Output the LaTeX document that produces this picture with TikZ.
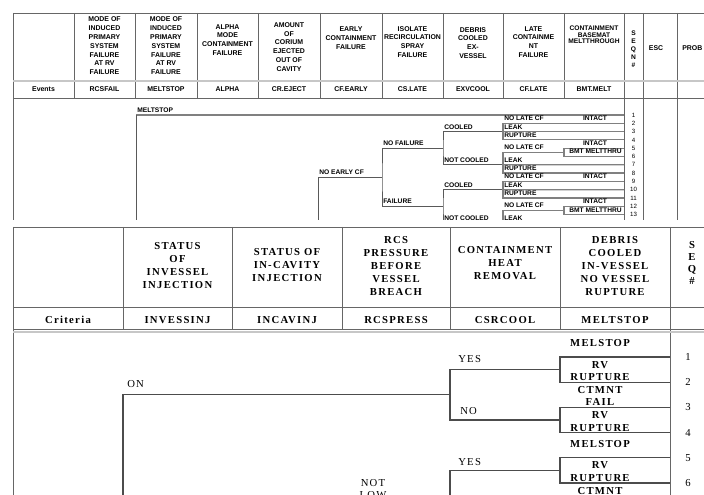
\documentclass[tikz,border=0pt]{standalone}
\usepackage{fontspec}
\setmainfont{Liberation Serif}
\newfontfamily\treefont{Liberation Sans}
\newfontfamily\sheetfont[LetterSpace=12]{Liberation Serif}
\usetikzlibrary{positioning}

\tikzset{
  tabline/.style={draw=black!60,line width=0.7pt},
  band/.style={draw=black!22,line width=1.8pt},
  branch/.style={draw=black!65,line width=0.6pt},
  leafline/.style={draw=black!50,line width=0.9pt},
  bbranch/.style={draw=black!70,line width=0.8pt},
  tophead/.style={font=\treefont\bfseries\fontsize{5.2}{6.6}\selectfont,inner sep=0pt,align=center},
  toplab/.style={font=\treefont\bfseries\fontsize{5}{6}\selectfont,inner sep=0pt,anchor=base west},
  topnum/.style={font=\treefont\fontsize{4.6}{5}\selectfont,inner sep=0pt},
  bothead/.style={font=\sheetfont\bfseries\fontsize{8}{9.75}\selectfont,inner sep=0pt,align=center},
  botlab/.style={font=\sheetfont\fontsize{8}{9}\selectfont,inner sep=0pt,anchor=base west},
  leaf/.style={font=\sheetfont\bfseries\fontsize{8}{9}\selectfont,inner sep=0pt,anchor=base},
  botnum/.style={font=\sheetfont\fontsize{8}{9}\selectfont,inner sep=0pt},
}

\begin{document}
\begin{tikzpicture}[x=0.75pt,y=-0.75pt]
\useasboundingbox[fill=white] (0,0) rectangle (704,495);

%% upper sheet
\begin{scope}
\clip (0,0) rectangle (704,220);
\foreach \x in {13,74,135,197,258,320,382,443,503,564,624,643,677}
  \draw[tabline] (\x,13) -- (\x,98.5);
\foreach \x in {13,624,643,677}
  \draw[tabline] (\x,98.5) -- (\x,222);
\draw[tabline] (13,13) -- (704,13);
\draw[band] (13,81) -- (704,81);
\draw[tabline] (13,98.5) -- (704,98.5);

\node[tophead] (hrcs) at (104.5,46) {MODE OF\\INDUCED\\PRIMARY\\SYSTEM\\FAILURE\\AT RV\\FAILURE};
\node[tophead] (hmelt) at (166,46) {MODE OF\\INDUCED\\PRIMARY\\SYSTEM\\FAILURE\\AT RV\\FAILURE};
\node[tophead] (halpha) at (227.5,40) {ALPHA\\MODE\\CONTAINMENT\\FAILURE};
\node[tophead] (heject) at (289,47) {AMOUNT\\OF\\CORIUM\\EJECTED\\OUT OF\\CAVITY};
\node[tophead] (hearly) at (351,38) {EARLY\\CONTAINMENT\\FAILURE};
\node[tophead] (hspray) at (412.5,42) {ISOLATE\\RECIRCULATION\\SPRAY\\FAILURE};
\node[tophead] (hexv) at (473,43) {DEBRIS\\COOLED\\EX-\\VESSEL};
\node[tophead] (hlate) at (533.5,42) {LATE\\CONTAINME\\NT\\FAILURE};
\node[tophead,font=\treefont\bfseries\fontsize{5}{5}\selectfont] (hbmt) at (594,35) {CONTAINMENT\\BASEMAT\\MELTTHROUGH};
\node[tophead,font=\treefont\bfseries\fontsize{5}{6}\selectfont] (hseq) at (633.5,49) {S\\E\\Q\\N\\\#};
\node[tophead] (hesc) at (656,48) {ESC};
\node[tophead,anchor=west] (hprob) at (682,48) {PROB};

\foreach \x/\t [count=\i] in {43.5/Events,104.5/RCSFAIL,166/MELTSTOP,227.5/ALPHA,289/CR.EJECT,351/CF.EARLY,412.5/CS.LATE,473/EXVCOOL,533.5/CF.LATE,594/BMT.MELT}
  \node[tophead] (e\i) at (\x,89) {\t};

% tree
\foreach \k in {1,...,15}
  \coordinate (r\k) at (624,{115+8.3*(\k-1)});
\foreach \k in {1,...,14}
  \node[topnum] (s\k) at (633.5,{115+8.3*(\k-1)}) {\k};

\coordinate (ms) at (136,115);
\coordinate (msdn) at (136,230);
\draw[leafline] (ms) -- (r1);
\draw[branch] (ms) -- (msdn);
\node[toplab] (lms) at (137,112.5) {MELTSTOP};

\coordinate (nec) at (318,177.25);
\coordinate (necdn) at (318,230);
\coordinate (cs) at (382,177.25);
\draw[branch] (necdn) -- (nec) -- (cs);
\node[toplab] (lnec) at (319,174.75) {NO EARLY CF};

\coordinate (nf) at (443,148.2);
\coordinate (fl) at (443,206.3);
\draw[branch] (nf) -| (cs) |- (fl);
\node[toplab] (lnf) at (383,145.7) {NO FAILURE};
\node[toplab] (lfl) at (383,203.8) {FAILURE};

\coordinate (c1) at (503,131.6);
\coordinate (n1) at (503,164.8);
\draw[branch] (c1) -| (nf) |- (n1);
\node[toplab] (lc1) at (444,129.1) {COOLED};
\node[toplab] (ln1) at (444,162.3) {NOT COOLED};

\coordinate (c2) at (503,189.7);
\coordinate (n2) at (503,222.9);
\draw[branch] (c2) -| (fl) |- (n2);
\node[toplab] (lc2) at (444,187.2) {COOLED};
\node[toplab] (ln2) at (444,220.4) {NOT COOLED};

% cooled, no failure
\draw[leafline] (r2) -| (c1) |- (r4);
\draw[leafline] (c1) -- (r3);
\node[toplab] at (504,120.8) {NO LATE CF};
\node[toplab] at (504,129.1) {LEAK};
\node[toplab] at (504,137.4) {RUPTURE};
\node[toplab,anchor=base] at (595,120.8) {INTACT};

% not cooled, no failure
\coordinate (nl1) at (564,152.35);
\draw[leafline] (nl1) -| (n1) |- (r8);
\draw[leafline] (n1) -- (r7);
\draw[leafline] (r5) -| (nl1) |- (r6);
\node[toplab] at (504,149.85) {NO LATE CF};
\node[toplab] at (504,162.3) {LEAK};
\node[toplab] at (504,170.6) {RUPTURE};
\node[toplab,anchor=base] at (595,145.7) {INTACT};
\node[toplab,anchor=base east] at (622,154) {BMT MELTTHRU};

% cooled, failure
\draw[leafline] (r9) -| (c2) |- (r11);
\draw[leafline] (c2) -- (r10);
\node[toplab] at (504,178.9) {NO LATE CF};
\node[toplab] at (504,187.2) {LEAK};
\node[toplab] at (504,195.5) {RUPTURE};
\node[toplab,anchor=base] at (595,178.9) {INTACT};

% not cooled, failure
\coordinate (nl2) at (564,210.45);
\draw[leafline] (nl2) -| (n2) |- (r15);
\draw[leafline] (n2) -- (r14);
\draw[leafline] (r12) -| (nl2) |- (r13);
\node[toplab] at (504,207.95) {NO LATE CF};
\node[toplab] at (504,220.4) {LEAK};
\node[toplab,anchor=base] at (595,203.8) {INTACT};
\node[toplab,anchor=base east] at (622,212.1) {BMT MELTTHRU};
\end{scope}

%% lower sheet
\begin{scope}
\clip (0,225) rectangle (704,495);
\foreach \x in {13,123,232,342,450,560,670}
  \draw[tabline] (\x,227) -- (\x,330);
\foreach \x in {13,670}
  \draw[tabline] (\x,330) -- (\x,500);
\draw[tabline] (13,227) -- (704,227);
\draw[tabline] (13,307) -- (704,307);
\draw[tabline] (13,329.5) -- (704,329.5);
\draw[band] (13,332) -- (704,332);

\node[bothead] (hinv) at (177.5,266) {STATUS\\OF\\INVESSEL\\INJECTION};
\node[bothead] (hcav) at (287,265) {STATUS OF\\IN-CAVITY\\INJECTION};
\node[bothead] (hrcsp) at (396,266) {RCS\\PRESSURE\\BEFORE\\VESSEL\\BREACH};
\node[bothead] (hcool) at (505,263.5) {CONTAINMENT\\HEAT\\REMOVAL};
\node[bothead] (hdeb) at (615,266) {DEBRIS\\COOLED\\IN-VESSEL\\NO VESSEL\\RUPTURE};
\node[bothead,font=\sheetfont\bfseries\fontsize{8}{8.8}\selectfont] (hsq) at (692,263) {S\\E\\Q\\\#};

\foreach \x/\t [count=\i] in {68/Criteria,177.5/INVESSINJ,287/INCAVINJ,396/RCSPRESS,505/CSRCOOL,615/MELTSTOP}
  \node[bothead] (crit\i) at (\x,320) {\t};

% tree
\foreach \k in {1,...,7}
  \coordinate (q\k) at (670,{357+25.2*(\k-1)});
\foreach \k in {1,...,6}
  \node[botnum] (sq\k) at (688,{357+25.2*(\k-1)}) {\k};

\coordinate (inv) at (123,394.5);
\coordinate (invdn) at (123,500);
\coordinate (hr) at (450,394.5);
\draw[bbranch] (invdn) -- (inv) -- (hr);
\node[botlab] (lon) at (127,387.5) {ON};

\coordinate (y1) at (560,369.6);
\coordinate (no1) at (560,420);
\draw[bbranch] (y1) -| (hr) |- (no1);
\node[botlab] (ly1) at (458,362.5) {YES};
\node[botlab] (lno1) at (460,415) {NO};
\draw[bbranch] (q1) -| (y1) |- (q2);
\draw[bbranch] (q3) -| (no1) |- (q4);

\coordinate (y2) at (560,470.4);
\coordinate (hr2) at (450,520);
\draw[bbranch] (y2) -| (hr2);
\node[botlab] (ly2) at (458,465) {YES};
\draw[bbranch] (q5) -| (y2) |- (q6);
\node[botlab,anchor=north,align=center] (lnl) at (373,479) {NOT\\LOW};

\node[leaf] (m1) at (600,346.5) {MELSTOP};
\node[leaf] (rv2) at (600,368.2) {RV};
\node[leaf] (ru2) at (600,380.7) {RUPTURE};
\node[leaf] (ct3) at (600,393.4) {CTMNT};
\node[leaf] (fa3) at (600,405.9) {FAIL};
\node[leaf] (rv4) at (600,418.6) {RV};
\node[leaf] (ru4) at (600,431.1) {RUPTURE};
\node[leaf] (m5) at (600,447.3) {MELSTOP};
\node[leaf] (rv6) at (600,469) {RV};
\node[leaf] (ru6) at (600,481.5) {RUPTURE};
\node[leaf] (ct7) at (600,494.2) {CTMNT};
\end{scope}
\end{tikzpicture}
\end{document}
